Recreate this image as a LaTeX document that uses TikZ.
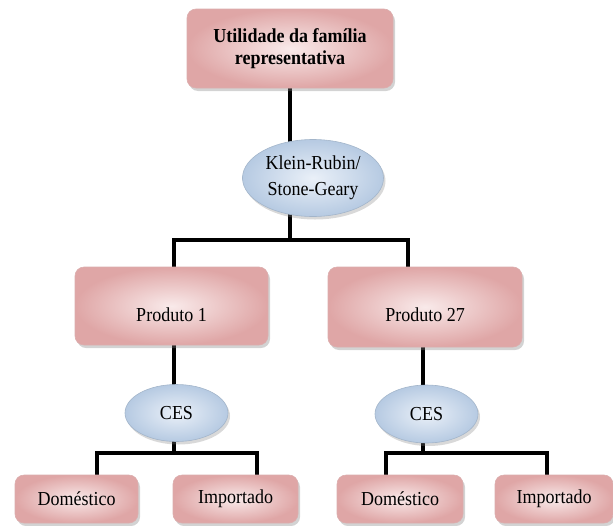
\documentclass[tikz,border=0pt]{standalone}
\usepackage{fontspec}
\setmainfont{Liberation Serif}
\usetikzlibrary{shadows,calc,backgrounds,shapes.geometric}
\definecolor{boxin}{HTML}{F9EAEA}
\definecolor{boxout}{HTML}{DFA6A6}
\definecolor{boxline}{HTML}{DBAEAE}
\definecolor{ellin}{HTML}{EAF0F8}
\definecolor{ellout}{HTML}{B6CAE2}
\definecolor{ellline}{HTML}{A3B5CA}
% slightly tall lettering
\newcommand\tallword[1]{\scalebox{1}[1.1]{#1}}
% label sitting below the middle of its box
\newcommand\lowword[2]{\raisebox{-#1}[0pt][0pt]{\tallword{#2}}}
\tikzset{
  pinkbox/.style={rectangle, rounded corners=9pt, draw=boxline, line width=0.6pt,
    inner color=boxin, outer color=boxout, align=center,
    font=\fontsize{18}{22}\selectfont,
    drop shadow={shadow xshift=2pt, shadow yshift=-3pt, opacity=0.35}},
  blueell/.style={ellipse, draw=ellline, line width=0.6pt,
    inner color=ellin, outer color=ellout, align=center, inner sep=0pt,
    font=\fontsize{18}{26}\selectfont,
    drop shadow={shadow xshift=2pt, shadow yshift=-3pt, opacity=0.3}},
  conn/.style={line width=4.5pt, black},
}
\begin{document}
\begin{tikzpicture}[x=1pt, y=-1pt]
\useasboundingbox (0,0) rectangle (613,525);

% hierarchy nodes
\node[pinkbox, minimum width=206pt, minimum height=79pt] (top) at (290,48.5)
  {\tallword{\textbf{Utilidade da família}}\\\tallword{\textbf{representativa}}};
\node[blueell, minimum width=141pt, minimum height=77pt] (kr) at (313,178)
  {\tallword{Klein-Rubin/}\\\tallword{Stone-Geary}};

\node[pinkbox, minimum width=193pt, minimum height=78pt] (p1) at (171.5,306)
  {\lowword{15pt}{Produto 1}};
\node[pinkbox, minimum width=194pt, minimum height=80pt] (p27) at (425,307)
  {\lowword{14pt}{Produto 27}};

\node[blueell, minimum width=103pt, minimum height=57pt] (ces1) at (176.5,413) {\tallword{CES}};
\node[blueell, minimum width=103pt, minimum height=58pt] (ces2) at (426.5,414) {\tallword{CES}};

\node[pinkbox, minimum width=123pt, minimum height=48pt] (d1) at (76.5,499) {\tallword{Doméstico}};
\node[pinkbox, minimum width=125pt, minimum height=48pt] (i1) at (235.5,499) {\tallword{Importado}};
\node[pinkbox, minimum width=126pt, minimum height=48pt] (d2) at (400,499) {\tallword{Doméstico}};
\node[pinkbox, minimum width=118pt, minimum height=48pt] (i2) at (554,499) {\tallword{Importado}};

% junction points of the connectors
\coordinate (j0) at (290,240);
\coordinate (jl) at (174,240);
\coordinate (jr) at (408,240);
\coordinate (jc) at (423,300);
\coordinate (b1l) at (97,453);
\coordinate (b1r) at (257,453);
\coordinate (b2l) at (386,453);
\coordinate (b2r) at (547,453);

\begin{scope}[on background layer]
  \draw[conn] (top.center) -- (j0);
  \draw[conn, line cap=rect] (jl |- p1.center) -- (jl) -- (jr) -- (jr |- p27.center);
  \draw[conn] (jl |- p1.center) -- (jl |- ces1.center);
  \draw[conn] (jc) -- (jc |- ces2.center);
  \draw[conn] (ces1.center -| jl) -- (jl |- b1l);
  \draw[conn] (jc |- ces2.center) -- (jc |- b2l);
  \draw[conn, line cap=rect] (b1l |- d1.center) -- (b1l) -- (b1r) -- (b1r |- i1.center);
  \draw[conn, line cap=rect] (b2l |- d2.center) -- (b2l) -- (b2r) -- (b2r |- i2.center);
\end{scope}
\end{tikzpicture}
\end{document}
